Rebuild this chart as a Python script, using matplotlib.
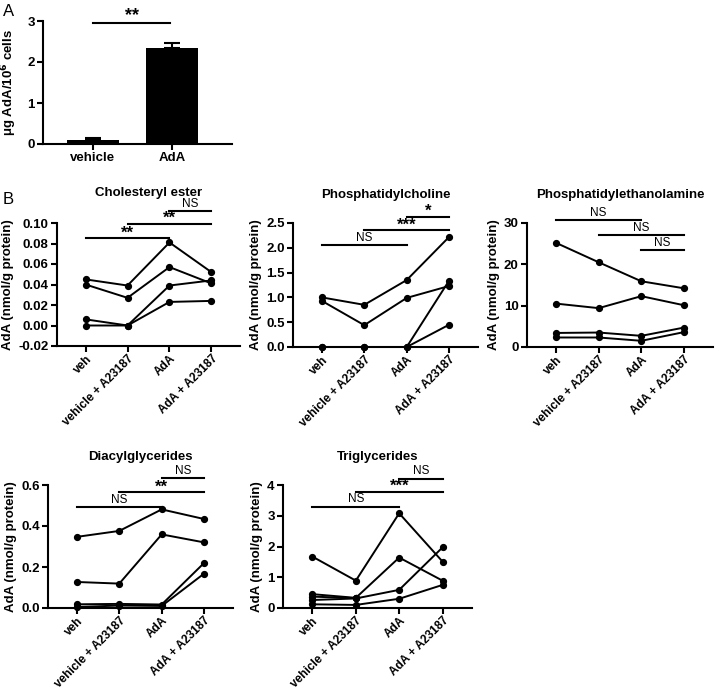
import numpy as np
import matplotlib
matplotlib.use("Agg")
import matplotlib.pyplot as plt

plt.rcParams["font.family"] = ["Liberation Sans", "DejaVu Sans"]
plt.rcParams["font.weight"] = "bold"
plt.rcParams["axes.labelweight"] = "bold"
plt.rcParams["axes.titleweight"] = "bold"

W, H = 720, 691

# panel A
bar_labels = ["vehicle", "AdA"]
bar_values = [0.09, 2.35]
bar_errors = [0.05, 0.12]

# panel B
groups = ["veh", "vehicle + A23187", "AdA", "AdA + A23187"]
nan = np.nan

chol = [[0.045, 0.039, 0.081, 0.052],
        [0.040, 0.027, 0.057, 0.041],
        [0.006, 0.000, 0.039, 0.044],
        [0.000, 0.000, 0.023, 0.024]]
pc = [[1.00, 0.85, 1.35, 2.22],
      [0.93, 0.44, 0.99, 1.23],
      [0.00, 0.00, 0.00, 1.34],
      [0.00, 0.00, 0.00, 0.45]]
pe = [[25.2, 20.5, 15.9, 14.2],
      [10.5, 9.4, 12.3, 10.1],
      [3.4, 3.5, 2.7, 4.7],
      [2.3, 2.3, 1.5, 3.6]]
dag = [[0.347, 0.376, 0.481, 0.434],
       [0.127, 0.119, 0.359, 0.320],
       [0.018, 0.020, 0.017, 0.220],
       [0.005, 0.012, 0.010, 0.168]]
tg = [[1.67, 0.89, 3.08, 1.51],
      [0.45, 0.33, 1.64, 0.89],
      [0.26, 0.31, 0.59, 1.97],
      [0.12, 0.10, 0.30, 0.75],
      [0.37, 0.32, nan, nan]]

# significance bars: (from, to, height, label)
chol_sig = [(0, 2, 0.085, "**"), (1, 3, 0.099, "**"), (2, 3, 0.112, "NS")]
pc_sig = [(0, 2, 2.05, "NS"), (1, 3, 2.35, "***"), (2, 3, 2.63, "*")]
pe_sig = [(0, 2, 30.8, "NS"), (1, 3, 27.0, "NS"), (2, 3, 23.4, "NS")]
dag_sig = [(0, 2, 0.494, "NS"), (1, 3, 0.564, "**"), (2, 3, 0.632, "NS")]
tg_sig = [(0, 2, 3.30, "NS"), (1, 3, 3.77, "***"), (2, 3, 4.21, "NS")]


def px_axes(fig, left, top, right, bottom):
    return fig.add_axes([left / W, 1 - bottom / H, (right - left) / W, (bottom - top) / H])


def style_axes(ax):
    for s in ["top", "right"]:
        ax.spines[s].set_visible(False)
    for s in ["left", "bottom"]:
        ax.spines[s].set_linewidth(1.5)
    ax.tick_params(width=1.5, length=4, labelsize=9.5, pad=2)


def sig_bar(ax, i, j, y, label):
    ax.plot([i, j], [y, y], color="black", lw=1.5, clip_on=False)
    if label == "NS":
        ax.annotate(label, ((i + j) / 2, y), xytext=(0, 0.8), textcoords="offset points",
                    ha="center", va="bottom", fontsize=8.5, fontweight="normal",
                    annotation_clip=False)
    else:
        ax.annotate(label, ((i + j) / 2, y), xytext=(0, -1.5), textcoords="offset points",
                    ha="center", va="bottom", fontsize=12, fontweight="bold",
                    annotation_clip=False)


def lipid_panel(fig, box, data, sig, title, ylim, yticks, fmt, title_pad=18):
    ax = px_axes(fig, *box)
    x = np.arange(len(groups))
    for row in data:
        ax.plot(x, row, color="black", lw=1.4, marker="o", ms=4.2, clip_on=False, zorder=3)
    for s in sig:
        sig_bar(ax, *s)
    ax.set_xlim(-0.68, 3.68)
    ax.set_ylim(*ylim)
    ax.set_yticks(yticks)
    ax.set_yticklabels([fmt.format(v) for v in yticks])
    ax.set_xticks(x)
    style_axes(ax)
    ax.set_xticklabels(groups, rotation=45, ha="right", va="top",
                       rotation_mode="anchor", fontsize=8.5)
    ax.tick_params(axis="x", pad=1)
    ax.set_ylabel("AdA (nmol/g protein)", fontsize=9.5, labelpad=3)
    ax.set_title(title, fontsize=9.5, pad=title_pad)
    return ax


fig = plt.figure(figsize=(W / 100, H / 100), dpi=100)

# ---- A ----
axA = px_axes(fig, 43, 21, 232, 144)
axA.bar([0, 1], bar_values, width=0.66, color="black", zorder=2)
axA.errorbar([0, 1], bar_values, yerr=[[0, 0], bar_errors], fmt="none", ecolor="black",
             elinewidth=1.5, capsize=6, capthick=1.5, zorder=1)
axA.set_xlim(-0.63, 1.76)
axA.set_ylim(0, 3)
axA.set_yticks([0, 1, 2, 3])
axA.set_xticks([0, 1])
axA.set_xticklabels(bar_labels)
axA.set_ylabel("μg AdA/10$^{\\mathbf{6}}$ cells", fontsize=9.5, labelpad=6)
style_axes(axA)
axA.plot([0, 0.98], [2.95, 2.95], color="black", lw=1.5, clip_on=False)
axA.annotate("**", (0.49, 2.95), xytext=(0, -1), textcoords="offset points",
             ha="center", va="bottom", fontsize=13, fontweight="bold",
             annotation_clip=False)

fig.text(3 / W, 1 - 12 / H, "A", fontsize=12, fontweight="normal", va="center")
fig.text(3 / W, 1 - 200 / H, "B", fontsize=12, fontweight="normal", va="center")

# ---- B ----
lipid_panel(fig, (57, 223, 240, 346), chol, chol_sig, "Cholesteryl ester",
            (-0.02, 0.10), [-0.02, 0.0, 0.02, 0.04, 0.06, 0.08, 0.10], "{:.2f}",
            title_pad=19.5)
lipid_panel(fig, (293, 223, 478, 347), pc, pc_sig, "Phosphatidylcholine",
            (0, 2.5), [0, 0.5, 1.0, 1.5, 2.0, 2.5], "{:.1f}")
lipid_panel(fig, (527, 223, 713, 347), pe, pe_sig, "Phosphatidylethanolamine",
            (0, 30), [0, 10, 20, 30], "{:.0f}")
lipid_panel(fig, (48, 485, 233, 608), dag, dag_sig, "Diacylglycerides",
            (0, 0.6), [0, 0.2, 0.4, 0.6], "{:.1f}")
lipid_panel(fig, (283, 485, 472, 608), tg, tg_sig, "Triglycerides",
            (0, 4), [0, 1, 2, 3, 4], "{:.0f}")

fig.savefig("out.png", dpi=100)
